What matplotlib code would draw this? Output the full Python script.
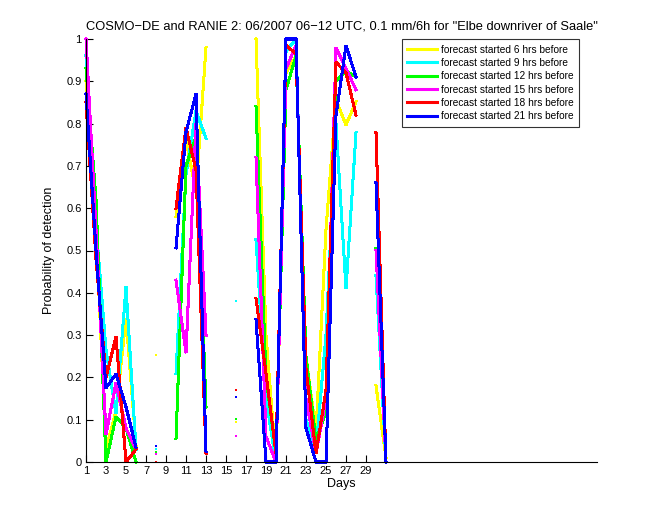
import numpy as np
import matplotlib
matplotlib.use("Agg")
import matplotlib.pyplot as plt

nan = np.nan
days = list(range(1, 32))

series_labels = [
    "forecast started 6 hrs before",
    "forecast started 9 hrs before",
    "forecast started 12 hrs before",
    "forecast started 15 hrs before",
    "forecast started 18 hrs before",
    "forecast started 21 hrs before",
]
series_colors = ["#ffff00", "#00ffff", "#00ff00", "#ff00ff", "#ff0000", "#0000ff"]

pod_6h = [0.90, 0.55, 0.03, 0.12, 0.34, 0.04, nan, 0.253, nan, 0.58, 0.76, 0.64, 0.98, nan, nan,
          0.095, nan, 1.00, 0.30, 0.00, 0.92, 0.96, 0.25, 0.07, 0.55, 0.856, 0.797, 0.852, nan, 0.18, 0.01]
pod_9h = [0.96, 0.56, 0.265, 0.115, 0.414, 0.03, nan, 0.031, nan, 0.21, 0.68, 0.83, 0.765, nan, nan,
          0.381, nan, 0.525, 0.15, 0.00, 0.97, 1.00, 0.10, 0.03, 0.30, 0.80, 0.41, 0.778, nan, 0.44, 0.00]
pod_12h = [0.93, 0.62, 0.00, 0.107, 0.08, 0.00, nan, 0.024, nan, 0.055, 0.70, 0.77, 0.13, nan, nan,
           0.102, nan, 0.84, 0.20, 0.02, 0.88, 0.96, 0.25, 0.05, 0.12, 0.90, 0.925, 0.91, nan, 0.505, 0.00]
pod_15h = [1.00, 0.55, 0.065, 0.187, 0.08, 0.03, nan, 0.019, nan, 0.43, 0.258, 0.80, 0.30, nan, nan,
           0.062, nan, 0.72, 0.06, 0.00, 0.93, 0.985, 0.15, 0.02, 0.15, 0.98, 0.93, 0.88, nan, 0.50, 0.00]
pod_18h = [0.85, 0.48, 0.20, 0.296, 0.00, 0.03, nan, 0.00, nan, 0.60, 0.79, 0.69, 0.02, nan, nan,
           0.170, nan, 0.387, 0.21, 0.02, 0.985, 0.965, 0.22, 0.02, 0.17, 0.945, 0.92, 0.82, nan, 0.778, 0.00]
pod_21h = [0.87, 0.50, 0.175, 0.208, 0.13, 0.035, nan, 0.038, nan, 0.506, 0.78, 0.87, 0.025, nan, nan,
           0.154, nan, 0.336, 0.00, 0.00, 1.00, 1.00, 0.08, 0.00, 0.00, 0.82, 0.985, 0.91, nan, 0.66, 0.00]

all_series = [pod_6h, pod_9h, pod_12h, pod_15h, pod_18h, pod_21h]

x_ticks = list(range(1, 30, 2))
y_ticks = [0, 0.1, 0.2, 0.3, 0.4, 0.5, 0.6, 0.7, 0.8, 0.9, 1.0]
y_ticklabels = ["0", "0.1", "0.2", "0.3", "0.4", "0.5", "0.6", "0.7", "0.8", "0.9", "1"]

title = 'COSMO\u2212DE and RANIE 2: 06/2007 06\u221212 UTC, 0.1 mm/6h for "Elbe downriver of Saale"'

plt.rcParams['font.family'] = ['Liberation Sans', 'DejaVu Sans']
W, H = 660, 520
fig = plt.figure(figsize=(W / 100, H / 100), dpi=100)
ax = fig.add_axes([86 / W, 58 / H, 511 / W, 423 / H])

x = np.array(days, dtype=float)
for vals, col, lab in zip(all_series, series_colors, series_labels):
    v = np.array(vals, dtype=float)
    ax.plot(x, v, color=col, lw=1.45, label=lab, antialiased=False,
            solid_joinstyle='miter', clip_on=False)
    # isolated points (both neighbours missing) are shown as small dots
    prev = np.concatenate([[nan], v[:-1]])
    nxt = np.concatenate([v[1:], [nan]])
    iso = ~np.isnan(v) & np.isnan(prev) & np.isnan(nxt)
    ax.plot(x[iso], v[iso], linestyle='none', marker='s', ms=1.7, mew=0,
            color=col, antialiased=False)

ax.set_xlim(1, 52.1)
ax.set_ylim(0, 1)
ax.set_xticks(x_ticks)
ax.set_xticklabels([str(t) for t in x_ticks])
ax.set_yticks(y_ticks)
ax.set_yticklabels(y_ticklabels)
ax.tick_params(direction='in', length=5, width=0.8, labelsize=8, pad=3)
for s in ['top', 'right']:
    ax.spines[s].set_visible(False)
for s in ['left', 'bottom']:
    ax.spines[s].set_linewidth(0.8)

ax.set_xlabel("Days", fontsize=9, labelpad=1)
ax.set_ylabel("Probability of detection", fontsize=9, labelpad=8)
ax.set_title(title, fontsize=9.3, pad=7)

leg = ax.legend(loc='upper right', bbox_to_anchor=(579 / W, (H - 39) / H),
                bbox_transform=fig.transFigure, fontsize=7.3, frameon=True,
                fancybox=False, borderaxespad=0, handlelength=2.9,
                handletextpad=0.4, labelspacing=0.33, borderpad=0.55)
leg.get_frame().set_edgecolor('black')
leg.get_frame().set_linewidth(0.8)
for ln in leg.get_lines():
    ln.set_linewidth(2.2)

fig.savefig("out.png", dpi=100)
